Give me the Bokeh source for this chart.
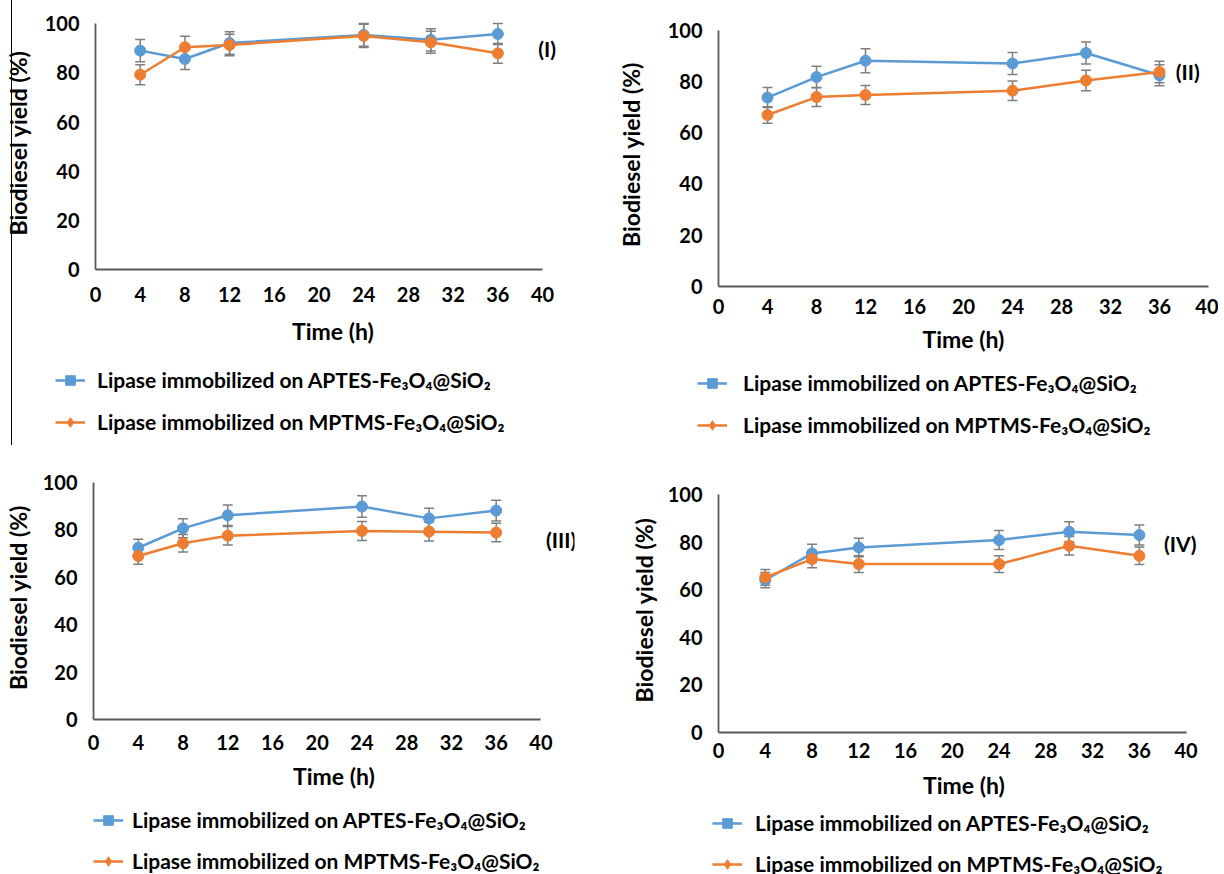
from bokeh.plotting import figure
from bokeh.models import (Range1d, FixedTicker, Whisker, ColumnDataSource, Legend,
                          LegendItem, Label, TeeHead)
from bokeh.embed import file_html
from bokeh.resources import INLINE

# ---------------- data ----------------
time_h = [4, 8, 12, 24, 30, 36]
x_ticks = [0, 4, 8, 12, 16, 20, 24, 28, 32, 36, 40]
y_ticks = [0, 20, 40, 60, 80, 100]

aptes_1 = [89.1, 85.7, 92.2, 95.5, 93.5, 95.9]
aptes_1_err = [4.5, 4.3, 4.6, 4.6, 4.5, 4.3]
mptms_1 = [79.3, 90.5, 91.4, 95.1, 92.5, 88.0]
mptms_1_err = [4.1, 4.5, 4.4, 4.7, 4.5, 4.0]

aptes_2 = [73.7, 81.7, 88.1, 87.0, 91.1, 82.4]
aptes_2_err = [3.9, 4.2, 4.7, 4.3, 4.3, 4.1]
mptms_2 = [66.9, 73.9, 74.7, 76.4, 80.4, 83.7]
mptms_2_err = [3.2, 3.7, 3.7, 3.8, 4.0, 4.2]

aptes_3 = [72.5, 80.7, 86.2, 89.9, 84.9, 88.2]
aptes_3_err = [3.6, 4.0, 4.3, 4.5, 4.3, 4.4]
mptms_3 = [69.0, 74.4, 77.6, 79.6, 79.3, 78.9]
mptms_3_err = [3.5, 3.7, 3.9, 4.0, 4.0, 3.9]

aptes_4 = [64.1, 75.3, 77.8, 80.9, 84.4, 83.0]
aptes_4_err = [3.2, 3.8, 3.9, 4.0, 4.2, 4.2]
mptms_4 = [65.2, 72.9, 70.8, 70.8, 78.5, 74.3]
mptms_4_err = [3.3, 3.6, 3.5, 3.5, 3.9, 3.7]

series_names = ["Lipase immobilized on APTES-Fe\u2083O\u2084@SiO\u2082",
                "Lipase immobilized on MPTMS-Fe\u2083O\u2084@SiO\u2082"]
panel_tags = ["(I)", "(II)", "(III)", "(IV)"]
x_title = "Time (h)"
y_title = "Biodiesel yield (%)"

# ---------------- style ----------------
FONT = "Lato"
BLUE = "#5B9BD5"
ORANGE = "#ED7D31"
GREY = "#7F7F7F"
AXIS = "#595959"


def make_panel(name, frame_w, frame_h, left, top, xmax, ymax,
               aptes, aptes_err, mptms, mptms_err, tag, tag_x, tag_y,
               ylab_standoff, xtick_standoff, xlab_standoff):
    right, bottom = 10, 84
    p = figure(name=name, width=left + frame_w + right, height=top + frame_h + bottom,
               x_range=Range1d(0, xmax), y_range=Range1d(0, ymax),
               output_backend="svg", toolbar_location=None,
               min_border_left=left, min_border_right=right,
               min_border_top=top, min_border_bottom=bottom)
    p.outline_line_color = None
    p.xgrid.visible = False
    p.ygrid.visible = False
    p.background_fill_color = None
    p.border_fill_color = None
    p.xaxis.ticker = FixedTicker(ticks=x_ticks)
    p.yaxis.ticker = FixedTicker(ticks=y_ticks)
    p.xaxis.bounds = (0, 40)
    p.yaxis.bounds = (0, 100)
    p.xaxis.axis_label = x_title
    p.yaxis.axis_label = y_title
    for ax in (p.xaxis[0], p.yaxis[0]):
        ax.axis_line_color = AXIS
        ax.axis_line_width = 1.8
        ax.major_tick_line_color = None
        ax.minor_tick_line_color = None
        ax.major_tick_out = 0
        ax.major_tick_in = 0
        ax.minor_tick_out = 0
        ax.major_label_text_font = FONT
        ax.major_label_text_font_size = "20px"
        ax.major_label_text_font_style = "bold"
        ax.major_label_text_color = "black"
        ax.axis_label_text_font = FONT
        ax.axis_label_text_font_size = "23px"
        ax.axis_label_text_font_style = "bold"
        ax.axis_label_text_color = "black"
    p.xaxis.major_label_standoff = xtick_standoff
    p.xaxis.axis_label_standoff = xlab_standoff
    p.yaxis.major_label_standoff = 16
    p.yaxis.axis_label_standoff = ylab_standoff

    for vals, errs, color in ((aptes, aptes_err, BLUE), (mptms, mptms_err, ORANGE)):
        src = ColumnDataSource(dict(x=time_h, y=vals,
                                    upper=[v + e for v, e in zip(vals, errs)],
                                    lower=[v - e for v, e in zip(vals, errs)]))
        p.line("x", "y", source=src, line_color=color, line_width=2.5)
        p.scatter("x", "y", source=src, marker="circle", size=11,
                  fill_color=color, line_color=color)
        p.add_layout(Whisker(source=src, base="x", upper="upper", lower="lower",
                             line_color=GREY, line_width=1.5,
                             upper_head=TeeHead(size=10, line_color=GREY, line_width=1.5),
                             lower_head=TeeHead(size=10, line_color=GREY, line_width=1.5)))

    p.add_layout(Label(x=tag_x, y=tag_y, text=tag, text_font=FONT, text_font_size="21px",
                       text_font_style="bold", text_color="black",
                       text_align="center", text_baseline="middle"))
    return p


def make_legend(name, width, spacing, standoff, aptes, mptms):
    # The series renderers lie outside this small figure's visible ranges;
    # they only provide the legend glyphs.
    lf = figure(name=name, width=width, height=80, x_range=Range1d(0, 1), y_range=Range1d(0, 1),
                x_axis_type=None, y_axis_type=None, output_backend="svg",
                toolbar_location=None, min_border=0)
    lf.outline_line_color = None
    lf.grid.visible = False
    lf.background_fill_color = None
    lf.border_fill_color = None
    lb = lf.line(time_h, aptes, line_color=BLUE, line_width=2.5)
    mb = lf.scatter(time_h, aptes, marker="square", size=9, fill_color=BLUE, line_color=BLUE)
    lo = lf.line(time_h, mptms, line_color=ORANGE, line_width=2.5)
    mo = lf.scatter(time_h, mptms, marker="diamond", size=11, fill_color=ORANGE, line_color=ORANGE)
    legend = Legend(items=[LegendItem(label=series_names[0], renderers=[lb, mb]),
                           LegendItem(label=series_names[1], renderers=[lo, mo])],
                    location="top_left", orientation="vertical",
                    padding=0, margin=0, spacing=spacing,
                    glyph_width=30, glyph_height=24, label_height=24,
                    label_standoff=standoff,
                    label_text_font=FONT, label_text_font_size="21px",
                    label_text_font_style="bold", label_text_color="black",
                    border_line_color=None, background_fill_alpha=0)
    lf.add_layout(legend)
    return lf


#                name  frame_w frame_h left top xmax  ymax
p1 = make_panel("p1", 475, 253, 110, 16, 42.5, 103, aptes_1, aptes_1_err, mptms_1, mptms_1_err,
                panel_tags[0], 40.4, 90.0, 10, 17, 12)
p2 = make_panel("p2", 490, 264, 120, 22, 40, 103, aptes_2, aptes_2_err, mptms_2, mptms_2_err,
                panel_tags[1], 38.3, 83.7, 20, 12, 8)
p3 = make_panel("p3", 481, 244, 110, 30, 43, 103, aptes_3, aptes_3_err, mptms_3, mptms_3_err,
                panel_tags[2], 41.8, 75.8, 8, 15, 9)
p4 = make_panel("p4", 491, 245, 120, 42, 42, 103, aptes_4, aptes_4_err, mptms_4, mptms_4_err,
                panel_tags[3], 39.5, 79.5, 7, 10, 10)

l1 = make_legend("l1", 540, 17, 12, aptes_1, mptms_1)
l2 = make_legend("l2", 527, 17, 16, aptes_2, mptms_2)
l3 = make_legend("l3", 520, 16, 9, aptes_3, mptms_3)
l4 = make_legend("l4", 512, 16, 13, aptes_4, mptms_4)

# page positions (left, top) of each root
places = [("p1", -15, 0), ("p2", 598, 0), ("p3", -17, 445), ("p4", 598, 445),
          ("l1", 55, 367), ("l2", 697, 370), ("l3", 93, 807), ("l4", 712, 810)]

cells = "\n".join(
    '<div style="position:absolute;left:%dpx;top:%dpx;">{{ embed(roots.%s) }}</div>' % (x, y, n)
    for n, x, y in places)

template = (
    "{% from macros import embed %}\n"
    "{% block postamble %}<style>html,body{margin:0;padding:0;overflow:hidden;background:#fff;}</style>{% endblock %}\n"
    "{% block contents %}\n" + cells + "\n"
    '<div style="position:absolute;left:11px;top:0px;width:1px;height:445px;background:#000;z-index:10;"></div>\n'
    "{% endblock %}\n"
)

html = file_html([p1, p2, p3, p4, l1, l2, l3, l4], INLINE, title="Biodiesel yield",
                 template=template)
open("out.html", "w").write(html)
